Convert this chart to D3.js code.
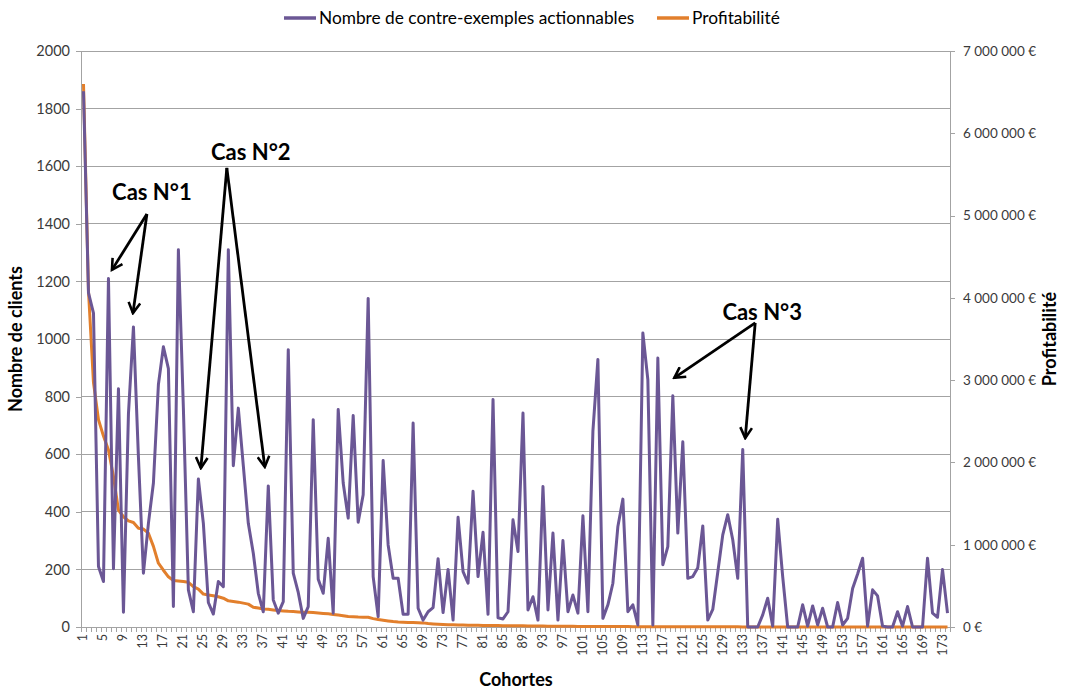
<!DOCTYPE html>
<html><head><meta charset="utf-8">
<script src="https://cdn.jsdelivr.net/npm/d3@7/dist/d3.min.js"></script>
<style>
html,body{margin:0;padding:0;background:#fff;}
svg{display:block;font-family:Lato,"Open Sans",sans-serif;}
</style></head>
<body>
<svg id="chart" width="1067" height="690"></svg>
<script>
// ---------- DATA ----------
const cohorts = d3.range(1, 175);
const contreExemples = [
1860,1160,1090,210,158,1210,202,827,51,740,
1042,590,187,360,500,842,973,897,71,1310,
760,129,53,514,360,85,45,158,140,1310,
560,760,560,360,256,117,53,490,94,48,
88,963,187,120,30,71,720,166,117,308,
48,755,500,378,734,364,459,1141,175,36,
578,285,169,169,44,44,708,65,24,53,
67,237,50,200,24,381,192,152,471,175,
329,44,790,32,28,53,372,262,743,59,
105,24,488,59,326,24,300,53,111,48,
386,53,680,929,30,77,152,349,444,53,
77,7,1021,859,7,934,216,279,803,326,
643,169,175,206,351,24,61,190,320,390,
303,169,616,0,0,0,42,100,3,374,
175,0,0,0,77,3,73,7,65,0,
0,85,7,30,134,184,239,3,129,108,
3,0,0,53,3,71,0,0,0,239,
48,34,200,48];
const profitabilite = [
6600000,4080000,2970000,2520000,2320000,2150000,1830000,1420000,1340000,1290000,
1270000,1200000,1190000,1140000,980000,775000,690000,610000,565000,560000,
553000,543000,490000,460000,400000,390000,380000,368000,350000,318000,
310000,302000,290000,278000,240000,230000,220000,215000,208000,200000,
195000,190000,187000,183000,180000,178000,175000,170000,165000,160000,
153000,146000,138000,128000,124000,121000,120000,118000,102000,90000,
82000,74000,66000,60000,57000,55000,54000,52000,50000,42000,
37000,33000,30000,28000,26000,24000,23000,22000,21000,20000,
19000,18000,17500,17000,16500,16000,15500,15000,14000,13000,
12500,12000,11000,10500,10000,9500,9000,8500,8000,7500,
7000,6800,6500,6200,6000,5800,5500,5200,5000,4800,
4500,4300,4000,3800,3600,3400,3200,3000,2900,2800,
2700,2600,2500,2400,2300,2200,2100,2000,1900,1800,
1700,1600,1500,1400,1300,1200,1100,1000,900,800,
700,600,500,400,300,200,100,0,0,0,
0,0,0,0,0,0,0,0,0,0,
0,0,0,0,0,0,0,0,0,0,
0,0,0,0];
const leftTicks = [0,200,400,600,800,1000,1200,1400,1600,1800,2000];
const rightTicks = [0,1000000,2000000,3000000,4000000,5000000,6000000,7000000];
const xTickLabels = d3.range(1, 175, 4);
const seriesNames = ["Nombre de contre-exemples actionnables", "Profitabilité"];
const annotations = [
  {label:"Cas N°1", text:[14.7,1483], from:[13.7,1434], tips:[[6.7,1240],[10.9,1090]]},
  {label:"Cas N°2", text:[34.5,1620], from:[29.7,1594], tips:[[24.5,552],[37.3,556]]},
  {label:"Cas N°3", text:[136.9,1066], from:[135.5,1056], tips:[[119.3,865],[133.5,656]]}
];

// ---------- LAYOUT ----------
const L = 81, R = 950, T = 51, B = 627;
const purple = "#6b5795", orange = "#e27f2c", grid = "#a3a3a3", txt = "#3a3a3a";
const svg = d3.select("#chart");

const x = d3.scaleBand().domain(cohorts).range([L, R]).padding(0);
const xc = c => L + (c - 0.5) * x.bandwidth();
const yL = d3.scaleLinear().domain([0, 2000]).range([B, T]);
const yR = d3.scaleLinear().domain([0, 7000000]).range([B, T]);

// gridlines
svg.append("g").selectAll("line").data(leftTicks.slice(1)).join("line")
  .attr("x1", L).attr("x2", R).attr("y1", d => yL(d)).attr("y2", d => yL(d))
  .attr("stroke", grid).attr("stroke-width", 1).attr("shape-rendering","crispEdges");

// left axis
const gl = svg.append("g").attr("transform", `translate(${L},0)`)
  .call(d3.axisLeft(yL).tickValues(leftTicks).tickFormat(d3.format("d")).tickSize(5).tickPadding(6));
gl.select(".domain").attr("stroke", grid).attr("shape-rendering","crispEdges");
gl.selectAll(".tick line").attr("stroke", grid).attr("shape-rendering","crispEdges");
gl.selectAll(".tick text").attr("font-size", 14.5).attr("fill", txt).style("font-family","Lato");

// right axis
const fmtEur = d => d3.format(",")(d).replace(/,/g, " ") + " €";
const gr = svg.append("g").attr("transform", `translate(${R},0)`)
  .call(d3.axisRight(yR).tickValues(rightTicks).tickFormat(fmtEur).tickSize(5).tickPadding(8));
gr.select(".domain").attr("stroke", grid).attr("shape-rendering","crispEdges");
gr.selectAll(".tick line").attr("stroke", grid).attr("shape-rendering","crispEdges");
gr.selectAll(".tick text").attr("font-size", 13.5).attr("fill", txt).style("font-family","Lato");

// bottom axis: minor ticks at every category boundary, labels every 4
const gb = svg.append("g").attr("transform", `translate(0,${B})`);
gb.append("line").attr("x1", L).attr("x2", R).attr("y1", 0).attr("y2", 0)
  .attr("stroke", grid).attr("shape-rendering","crispEdges");
gb.selectAll("line.mt").data(cohorts.concat([175])).join("line").attr("class","mt")
  .attr("x1", d => Math.round(L + (d - 1) * x.bandwidth()) + 0.5)
  .attr("x2", d => Math.round(L + (d - 1) * x.bandwidth()) + 0.5)
  .attr("y1", 0).attr("y2", 5).attr("stroke", grid);
gb.selectAll("text").data(xTickLabels).join("text")
  .attr("transform", d => `translate(${x(d) + x.bandwidth()/2 + 4},7) rotate(-90)`)
  .attr("text-anchor", "end").attr("font-size", 12.5).attr("fill", txt)
  .text(d => d);

// lines
const linePurple = d3.line().x((d, i) => x(cohorts[i]) + x.bandwidth()/2).y(d => yL(d));
const lineOrange = d3.line().x((d, i) => x(cohorts[i]) + x.bandwidth()/2).y(d => yR(d));
svg.append("path").datum(profitabilite).attr("d", lineOrange)
  .attr("fill", "none").attr("stroke", orange).attr("stroke-width", 3).attr("stroke-linejoin","round");
svg.append("path").datum(contreExemples).attr("d", linePurple)
  .attr("fill", "none").attr("stroke", purple).attr("stroke-width", 3).attr("stroke-linejoin","round");

// axis titles
svg.append("text").attr("transform", `translate(22,${(T + B) / 2}) rotate(-90)`)
  .attr("text-anchor", "middle").attr("font-size", 18).attr("font-weight", "bold").attr("fill", "#000")
  .text("Nombre de clients");
svg.append("text").attr("transform", `translate(1056,${(T + B) / 2}) rotate(-90)`)
  .attr("text-anchor", "middle").attr("font-size", 18).attr("font-weight", "bold").attr("fill", "#000")
  .text("Profitabilité");
svg.append("text").attr("x", 516).attr("y", 686)
  .attr("text-anchor", "middle").attr("font-size", 18).attr("font-weight", "bold").attr("fill", "#000")
  .text("Cohortes");

// legend
const lg = svg.append("g");
const legendItems = [
  {name: seriesNames[0], color: purple, x: 284},
  {name: seriesNames[1], color: orange, x: 657}
];
legendItems.forEach(it => {
  lg.append("line").attr("x1", it.x).attr("x2", it.x + 32).attr("y1", 18).attr("y2", 18)
    .attr("stroke", it.color).attr("stroke-width", 3.5);
  lg.append("text").attr("x", it.x + 35).attr("y", 24).attr("font-size", 17.3).attr("fill", "#000")
    .text(it.name);
});

// annotations
const defs = svg.append("defs");
defs.append("marker").attr("id", "arr").attr("viewBox", "0 0 12 12")
  .attr("refX", 10).attr("refY", 6).attr("markerWidth", 5).attr("markerHeight", 5)
  .attr("orient", "auto").attr("markerUnits", "strokeWidth")
  .append("path").attr("d", "M1,1 L10,6 L1,11").attr("fill", "none")
  .attr("stroke", "#000").attr("stroke-width", 2.2).attr("stroke-linejoin","miter");
const ga = svg.append("g");
annotations.forEach(a => {
  ga.append("text").attr("x", xc(a.text[0])).attr("y", yL(a.text[1]))
    .attr("text-anchor", "middle").attr("font-size", 22).attr("font-weight", "bold").attr("fill", "#000")
    .text(a.label);
  a.tips.forEach(t => {
    ga.append("line").attr("x1", xc(a.from[0])).attr("y1", yL(a.from[1]))
      .attr("x2", xc(t[0])).attr("y2", yL(t[1]))
      .attr("stroke", "#000").attr("stroke-width", 2.8).attr("marker-end", "url(#arr)");
  });
});
</script>
</body></html>
